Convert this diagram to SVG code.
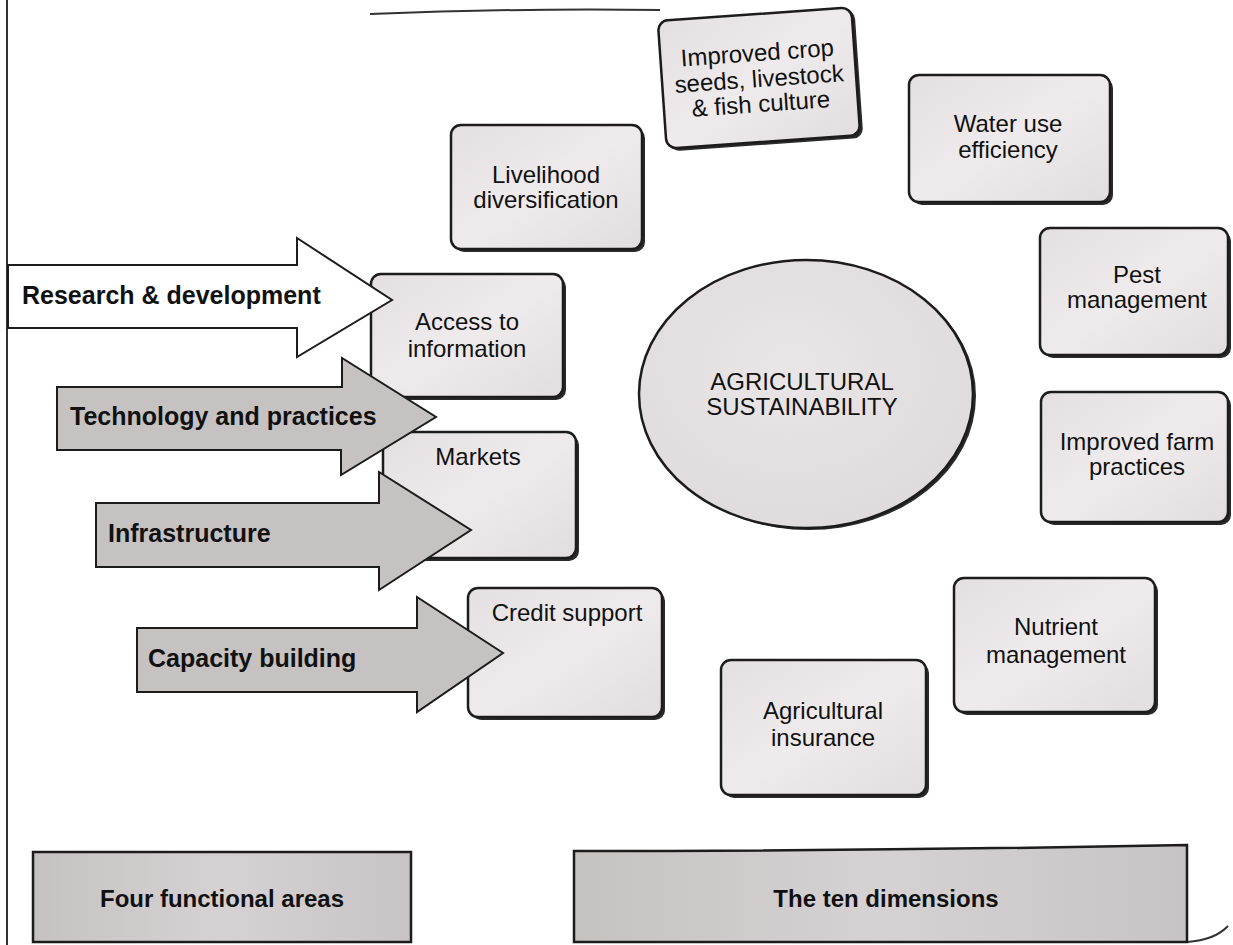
<svg xmlns="http://www.w3.org/2000/svg" width="1233" height="945" viewBox="0 0 1233 945">
<defs>
<linearGradient id="boxfill" x1="0" y1="0" x2="1" y2="1">
<stop offset="0" stop-color="#e4e0e1"/>
<stop offset="0.5" stop-color="#efebed"/>
<stop offset="1" stop-color="#e2dedf"/>
</linearGradient>
<linearGradient id="barfill" x1="0" y1="0" x2="1" y2="0">
<stop offset="0" stop-color="#c6c2c2"/>
<stop offset="0.5" stop-color="#d6d2d3"/>
<stop offset="1" stop-color="#c8c4c5"/>
</linearGradient>
<radialGradient id="ellfill" cx="0.45" cy="0.4" r="0.7">
<stop offset="0" stop-color="#eae6e7"/>
<stop offset="1" stop-color="#dedadb"/>
</radialGradient>
</defs>
<style>
.box{fill:url(#boxfill);stroke:#1c1c1c;stroke-width:2.5}
.shadow{fill:#2a2a2a}
.arrow{fill:#c6c2c2;stroke:#1c1c1c;stroke-width:2}
.arrow.white{fill:#ffffff}
.bar{fill:url(#barfill);stroke:#1c1c1c;stroke-width:2.5}
.t{font-family:"Liberation Sans",Arial,sans-serif;font-size:24px;fill:#111;text-anchor:middle}
.tb{font-family:"Liberation Sans",Arial,sans-serif;font-size:25px;font-weight:bold;fill:#111}
.bt{font-family:"Liberation Sans",Arial,sans-serif;font-size:24px;font-weight:bold;fill:#111;text-anchor:middle}
.edge{fill:none;stroke:#333;stroke-width:2}
</style>
<rect x="0" y="0" width="1233" height="945" fill="#ffffff"/>
<g id="page-edges">
<line class="edge" x1="7" y1="0" x2="7" y2="945"/>
<path class="edge" d="M370,14 Q520,8 660,10"/>
<path class="edge" d="M1187,942 Q1215,940 1228,926"/>
</g>

<g id="livelihood">
<rect class="shadow" x="454" y="128" width="191" height="124" rx="10"/>
<rect class="box" x="451" y="125" width="191" height="124" rx="10"/>
<text class="t" x="546" y="183">Livelihood</text>
<text class="t" x="546" y="208">diversification</text>
</g>
<g id="improved-crop" transform="rotate(-4 759 78)">
<rect class="shadow" x="665" y="16" width="194" height="129" rx="10"/>
<rect class="box" x="662" y="14" width="194" height="128" rx="10"/>
<text class="t" x="759" y="61">Improved crop</text>
<text class="t" x="759" y="87">seeds, livestock</text>
<text class="t" x="759" y="112">&amp; fish culture</text>
</g>
<g id="water">
<rect class="shadow" x="912" y="78" width="201" height="127" rx="10"/>
<rect class="box" x="909" y="75" width="201" height="127" rx="10"/>
<text class="t" x="1008" y="132">Water use</text>
<text class="t" x="1008" y="158">efficiency</text>
</g>
<g id="pest">
<rect class="shadow" x="1043" y="231" width="188" height="127" rx="10"/>
<rect class="box" x="1040" y="228" width="188" height="127" rx="10"/>
<text class="t" x="1137" y="283">Pest</text>
<text class="t" x="1137" y="308">management</text>
</g>
<g id="farm">
<rect class="shadow" x="1044" y="395" width="187" height="130" rx="10"/>
<rect class="box" x="1041" y="392" width="187" height="130" rx="10"/>
<text class="t" x="1137" y="450">Improved farm</text>
<text class="t" x="1137" y="475">practices</text>
</g>
<g id="nutrient">
<rect class="shadow" x="957" y="581" width="201" height="134" rx="10"/>
<rect class="box" x="954" y="578" width="201" height="134" rx="10"/>
<text class="t" x="1056" y="635">Nutrient</text>
<text class="t" x="1056" y="663">management</text>
</g>
<g id="insurance">
<rect class="shadow" x="724" y="663" width="205" height="135" rx="10"/>
<rect class="box" x="721" y="660" width="205" height="135" rx="10"/>
<text class="t" x="823" y="719">Agricultural</text>
<text class="t" x="823" y="746">insurance</text>
</g>
<g id="credit">
<rect class="shadow" x="471" y="591" width="194" height="129" rx="10"/>
<rect class="box" x="468" y="588" width="194" height="129" rx="10"/>
<text class="t" x="567" y="621">Credit support</text>
</g>
<g id="markets">
<rect class="shadow" x="386" y="435" width="193" height="126" rx="10"/>
<rect class="box" x="383" y="432" width="193" height="126" rx="10"/>
<text class="t" x="478" y="465">Markets</text>
</g>
<g id="access">
<rect class="shadow" x="374" y="277" width="192" height="123" rx="10"/>
<rect class="box" x="371" y="274" width="192" height="123" rx="10"/>
<text class="t" x="467" y="330">Access to</text>
<text class="t" x="467" y="357">information</text>
</g>
<g id="sustainability">
<ellipse cx="809" cy="396" rx="167" ry="134" fill="#2a2a2a"/>
<ellipse cx="806" cy="394" rx="167" ry="134" fill="url(#ellfill)" stroke="#1c1c1c" stroke-width="2.5"/>
<text class="t" x="802" y="390">AGRICULTURAL</text>
<text class="t" x="802" y="415">SUSTAINABILITY</text>
</g>

<g id="connectors">
<g id="arrow-research">
<polygon class="arrow white" points="8,265 297,265 297,238 392,300 297,357 297,328 8,328"/>
<text class="tb" x="22" y="304">Research &amp; development</text>
</g>
<g id="arrow-technology">
<polygon class="arrow" points="57,387 342,387 342,358 436,417 341,475 341,450 57,450"/>
<text class="tb" x="70" y="425">Technology and practices</text>
</g>
<g id="arrow-infrastructure">
<polygon class="arrow" points="96,503 379,503 379,472 471,530 379,590 379,567 96,567"/>
<text class="tb" x="108" y="542">Infrastructure</text>
</g>
<g id="arrow-capacity">
<polygon class="arrow" points="137,628 417,628 417,597 503,653 417,712 417,692 137,692"/>
<text class="tb" x="148" y="667">Capacity building</text>
</g>
</g>

<g id="four-areas">
<rect class="bar" x="33" y="852" width="378" height="90"/>
<text class="bt" x="222" y="907">Four functional areas</text>
</g>
<g id="ten-dimensions">
<path class="bar" d="M574,851 Q880,851 1187,845 L1187,942 L574,942 Z"/>
<text class="bt" x="886" y="907">The ten dimensions</text>
</g>
</svg>
